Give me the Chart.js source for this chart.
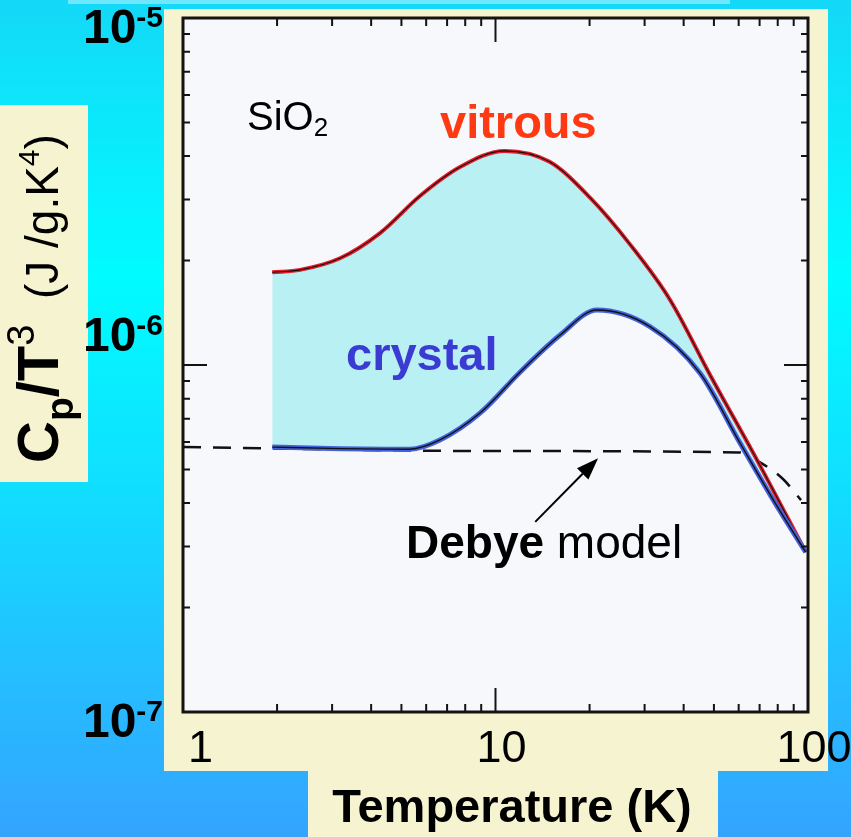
<!DOCTYPE html>
<html>
<head>
<meta charset="utf-8">
<script src="https://cdn.jsdelivr.net/npm/chart.js@4.4.1/dist/chart.umd.min.js"></script>
<style>
  html, body { margin: 0; padding: 0; }
  body {
    width: 851px; height: 837px; overflow: hidden; position: relative;
    background: linear-gradient(to bottom, #14d8f8 0%, #00fcff 33%, #12dcff 60%, #28b8ff 85%, #34a4ff 100%);
  }
  .box { position: absolute; background: #f6f4d0; }
  #strip { position: absolute; left: 68px; top: 0; width: 662px; height: 4px; background: #6ee8ff; }
  #chart { position: absolute; left: 0; top: 0; }
</style>
</head>
<body>
<div id="strip"></div>
<div class="box" style="left:164px;top:9px;width:664px;height:762px"></div>
<div class="box" style="left:0;top:105px;width:88px;height:377px"></div>
<div class="box" style="left:308px;top:771px;width:410px;height:66px"></div>
<canvas id="chart" width="851" height="837"></canvas>
<script>
// values: T in K, Cp/T^3 in J/g.K^4
const vitrousT = [1.93, 2.37, 3.18, 4.27, 5.73, 7.70, 10.7, 14.9, 20.1, 26.9, 36.2, 48.6, 68.7, 98.3];
const vitrousC = [1.85e-6, 1.88e-6, 2.03e-6, 2.40e-6, 3.07e-6, 3.72e-6, 4.14e-6, 3.85e-6, 3.03e-6, 2.23e-6, 1.54e-6, 9.36e-7, 5.32e-7, 2.89e-7];

const crystalT = [1.93, 2.95, 5.32, 6.64, 8.94, 12.0, 16.1, 21.1, 31.2, 45.1, 60.6, 77.5, 98.3];
const crystalC = [5.80e-7, 5.75e-7, 5.72e-7, 6.08e-7, 7.28e-7, 9.55e-7, 1.22e-6, 1.44e-6, 1.29e-6, 9.48e-7, 5.96e-7, 4.08e-7, 2.89e-7];

const debyeT = [1, 10, 60, 70, 83, 95];
const debyeC = [5.80e-7, 5.65e-7, 5.6e-7, 5.25e-7, 4.7e-7, 4.08e-7];

const xTicks = [1, 10, 100];
const xTickLabels = ['1', '10', '100'];
const yTicks = [1e-5, 1e-6, 1e-7];
const yTickExp = ['-5', '-6', '-7'];

// arrow from the "Debye model" label to the dashed line
const arrowTail = [13.4, 3.53e-7];
const arrowTip = [21.3, 5.39e-7];

function pts(xs, ys) {
  return xs.map((x, i) => ({ x: x, y: ys[i] }));
}

function drawParts(ctx, parts, x, y, align) {
  let w = 0;
  parts.forEach(p => { ctx.font = p[1]; w += ctx.measureText(p[0]).width; });
  let cx = align === 'right' ? x - w : (align === 'center' ? x - w / 2 : x);
  parts.forEach(p => {
    ctx.font = p[1];
    ctx.fillText(p[0], cx, y + (p[2] || 0));
    cx += ctx.measureText(p[0]).width;
  });
}

const F = '"Liberation Sans", Arial, sans-serif';

const framePlugin = {
  id: 'frame',
  beforeDraw(chart) {
    const a = chart.chartArea, ctx = chart.ctx;
    ctx.save();
    ctx.fillStyle = '#f7f8fc';
    ctx.fillRect(a.left, a.top, a.right - a.left, a.bottom - a.top);
    ctx.restore();
  },
  afterDatasetsDraw(chart) {
    const a = chart.chartArea, ctx = chart.ctx;
    const xs = chart.scales.x, ys = chart.scales.y;
    ctx.save();
    ctx.strokeStyle = '#151210';
    ctx.lineWidth = 2;
    // x ticks, top and bottom
    for (let d = 1; d < 100; d *= 10) {
      for (let m = 1; m < 10; m++) {
        const v = d * m;
        if (v === 1) continue;
        const px = xs.getPixelForValue(v);
        const len = m === 1 ? 24 : 8;
        ctx.beginPath();
        ctx.moveTo(px, a.bottom); ctx.lineTo(px, a.bottom - len);
        ctx.moveTo(px, a.top); ctx.lineTo(px, a.top + len);
        ctx.stroke();
      }
    }
    // y ticks, left and right
    for (let d = 1e-7; d < 9e-6; d *= 10) {
      for (let m = 1; m < 10; m++) {
        if (m === 1 && d < 5e-7) continue;
        const py = ys.getPixelForValue(d * m);
        const len = m === 1 ? 24 : 7;
        ctx.beginPath();
        ctx.moveTo(a.left, py); ctx.lineTo(a.left + len, py);
        ctx.moveTo(a.right, py); ctx.lineTo(a.right - len, py);
        ctx.stroke();
      }
    }
    // frame
    ctx.lineWidth = 3;
    ctx.strokeRect(a.left, a.top, a.right - a.left, a.bottom - a.top);

    // tick labels
    ctx.fillStyle = '#000';
    ctx.textBaseline = 'alphabetic';
    ctx.textAlign = 'left';
    xTicks.forEach((v, i) => {
      const px = xs.getPixelForValue(v);
      if (i === 0) drawParts(ctx, [[xTickLabels[i], '45px ' + F]], px + 5, 762, 'left');
      else drawParts(ctx, [[xTickLabels[i], '45px ' + F]], px + 6, 762, 'center');
    });
    yTicks.forEach((v, i) => {
      const py = ys.getPixelForValue(v);
      // the middle label sits above its tick in the original slide
      const base = i === 1 ? py - 14 : py + 25;
      drawParts(ctx, [['10', 'bold 48px ' + F], [yTickExp[i], 'bold 30px ' + F, -16]], 163, base, 'right');
    });

    // axis titles
    drawParts(ctx, [['Temperature (K)', 'bold 47px ' + F]], 512, 822, 'center');
    ctx.save();
    ctx.translate(58, 463);
    ctx.rotate(-Math.PI / 2);
    drawParts(ctx, [
      ['C', 'bold 58px ' + F], ['p', 'bold 39px ' + F, 15], ['/T', 'bold 58px ' + F],
      ['3', '38px ' + F, -24], ['  (J /g.K', '46px ' + F], ['4', '30px ' + F, -19], [')', '46px ' + F]
    ], 0, 0, 'left');
    ctx.restore();

    // annotations
    drawParts(ctx, [['SiO', '40px ' + F], ['2', '26px ' + F, 6]], 247, 130, 'left');
    ctx.fillStyle = '#ff3a12';
    drawParts(ctx, [['vitrous', 'bold 47px ' + F]], 440, 138, 'left');
    ctx.fillStyle = '#3b3bd4';
    drawParts(ctx, [['crystal', 'bold 47px ' + F]], 346, 370, 'left');
    ctx.fillStyle = '#000';
    drawParts(ctx, [['Debye', 'bold 46px ' + F], [' model', '46px ' + F]], 406, 558, 'left');

    // arrow
    const x0 = xs.getPixelForValue(arrowTail[0]), y0 = ys.getPixelForValue(arrowTail[1]);
    const x1 = xs.getPixelForValue(arrowTip[0]), y1 = ys.getPixelForValue(arrowTip[1]);
    const ang = Math.atan2(y1 - y0, x1 - x0);
    const hl = 22, hw = 8;
    const bx = x1 - hl * Math.cos(ang), by = y1 - hl * Math.sin(ang);
    ctx.strokeStyle = '#000';
    ctx.lineWidth = 2;
    ctx.beginPath(); ctx.moveTo(x0, y0); ctx.lineTo(bx, by); ctx.stroke();
    ctx.beginPath();
    ctx.moveTo(x1, y1);
    ctx.lineTo(bx + hw * Math.sin(ang), by - hw * Math.cos(ang));
    ctx.lineTo(bx - hw * Math.sin(ang), by + hw * Math.cos(ang));
    ctx.closePath();
    ctx.fill();
    ctx.restore();
  }
};

const smooth = { pointRadius: 0, cubicInterpolationMode: 'monotone' };

new Chart(document.getElementById('chart'), {
  type: 'line',
  data: {
    datasets: [
      { ...smooth, data: pts(crystalT, crystalC), borderColor: '#111', borderWidth: 1.4, fill: false },
      { ...smooth, data: pts(crystalT, crystalC), borderColor: '#4461dc', borderWidth: 5, fill: false },
      { ...smooth, data: pts(vitrousT, vitrousC), borderColor: '#1a0a0a', borderWidth: 1.1, fill: false },
      { ...smooth, data: pts(vitrousT, vitrousC), borderColor: '#e41e2c', borderWidth: 4, fill: 1, backgroundColor: '#b9f0f3' },
      { ...smooth, data: pts(debyeT, debyeC), borderColor: '#111', borderWidth: 2.5, borderDash: [18, 12], fill: false }
    ]
  },
  options: {
    responsive: false,
    animation: false,
    devicePixelRatio: 1,
    layout: { padding: { left: 183, right: 43, top: 18, bottom: 125 } },
    scales: {
      x: { type: 'logarithmic', min: 1, max: 100, display: false },
      y: { type: 'logarithmic', min: 1e-7, max: 1e-5, display: false }
    },
    plugins: { legend: { display: false }, tooltip: { enabled: false } }
  },
  plugins: [framePlugin]
});
</script>
</body>
</html>
